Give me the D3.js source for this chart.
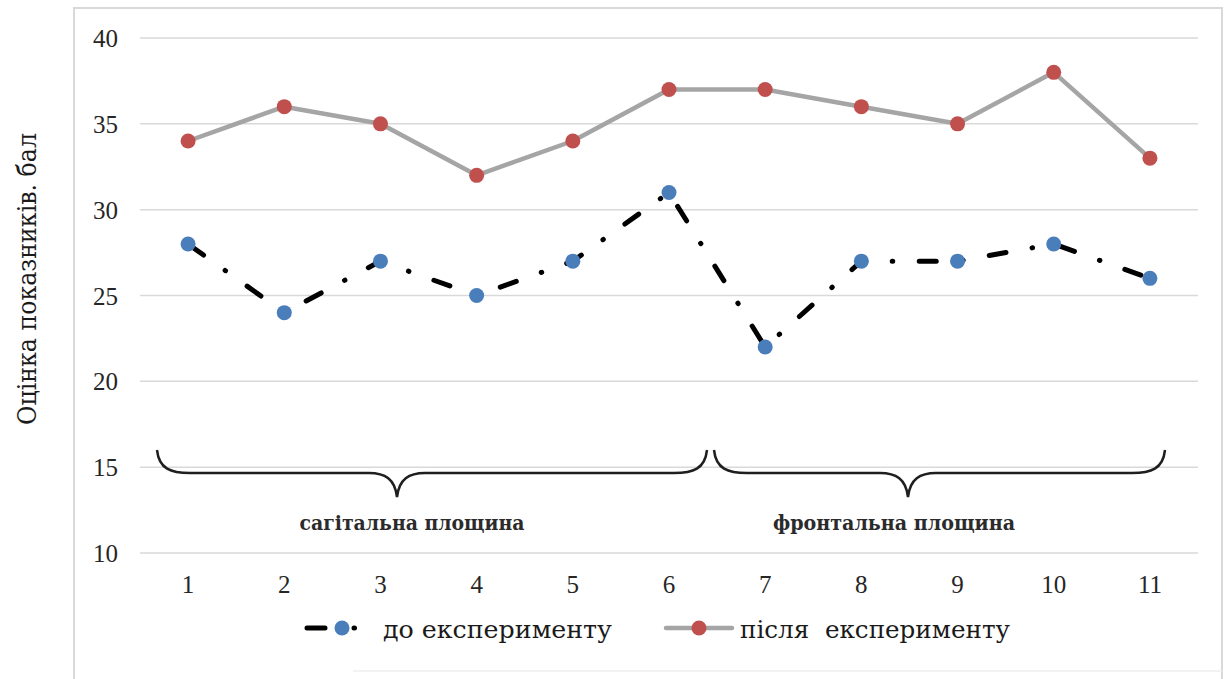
<!DOCTYPE html>
<html>
<head>
<meta charset="utf-8">
<script src="https://cdn.jsdelivr.net/npm/d3@7"></script>
<style>
  html, body { margin: 0; padding: 0; background: #fff; }
  svg { display: block; }
</style>
</head>
<body>
<svg id="chart" width="1227" height="679"></svg>
<script>
// Measurement points (1–11) and scores before/after the experiment
const categories = ["1", "2", "3", "4", "5", "6", "7", "8", "9", "10", "11"];
const beforeValues = [28, 24, 27, 25, 27, 31, 22, 27, 27, 28, 26];
const afterValues  = [34, 36, 35, 32, 34, 37, 37, 36, 35, 38, 33];
const yTicks = [10, 15, 20, 25, 30, 35, 40];
const seriesNames = ["до експерименту", "після  експерименту"];
const groups = [
  { label: "сагітальна площина", from: "1", to: "6" },
  { label: "фронтальна площина", from: "7", to: "11" }
];
const yTitle = "Оцінка показників. бал";

const SERIF = "'Liberation Serif', serif";
// Cyrillic text uses a serif face that carries those glyphs
const SERIF_CYR = "'DejaVu Serif', 'Liberation Serif', serif";
const svg = d3.select("#chart").attr("font-family", SERIF);

// Outer chart frame
svg.append("path")
  .attr("d", "M74,679 L74,8 L1222,8 L1222,679")
  .attr("fill", "none").attr("stroke", "#d9d9d9").attr("stroke-width", 2);
svg.append("line")
  .attr("x1", 353).attr("x2", 1222).attr("y1", 671).attr("y2", 671)
  .attr("stroke", "#eeeeee").attr("stroke-width", 1.5);

const x = d3.scaleBand().domain(categories).range([140, 1198]);
const cx = d => x(d) + x.bandwidth() / 2;
const y = d3.scaleLinear().domain([10, 40]).range([553, 38]);

// Horizontal gridlines
svg.append("g").selectAll("line").data(yTicks).join("line")
  .attr("x1", 140).attr("x2", 1198)
  .attr("y1", d => y(d)).attr("y2", d => y(d))
  .attr("stroke", "#d9d9d9").attr("stroke-width", 1.5);

// Y axis labels
const yAxis = d3.axisLeft(y).tickValues(yTicks).tickSize(0).tickPadding(0);
const gy = svg.append("g").attr("transform", "translate(118,0)").call(yAxis)
  .attr("font-family", SERIF);
gy.select(".domain").remove();
gy.selectAll("text")
  .attr("font-size", 25).attr("fill", "#262626").attr("dy", "0.34em");

// X axis labels
const xAxis = d3.axisBottom(x).tickSize(0).tickPadding(0);
const gx = svg.append("g").attr("transform", "translate(0,593)").call(xAxis)
  .attr("font-family", SERIF);
gx.select(".domain").remove();
gx.selectAll("text")
  .attr("font-size", 25).attr("fill", "#262626").attr("dy", 0).attr("y", 0);

// Y axis title
svg.append("text")
  .attr("transform", "translate(36,279) rotate(-90)")
  .attr("text-anchor", "middle")
  .attr("font-family", SERIF_CYR)
  .attr("font-size", 26).attr("fill", "#1a1a1a")
  .attr("textLength", 292).attr("lengthAdjust", "spacingAndGlyphs")
  .text(yTitle);

// Curly braces grouping the planes
function bracePath(x0, x1, xc) {
  const yTop = 450, yMid = 473, yTip = 497, r = 33, m = 28;
  return `M${x0},${yTop} C${x0 + 2},${yMid - 4} ${x0 + 14},${yMid} ${x0 + r},${yMid}` +
         ` L${xc - m},${yMid} C${xc - 12},${yMid} ${xc - 2},${yMid + 6} ${xc},${yTip}` +
         ` C${xc + 2},${yMid + 6} ${xc + 12},${yMid} ${xc + m},${yMid}` +
         ` L${x1 - r},${yMid} C${x1 - 14},${yMid} ${x1 - 2},${yMid - 4} ${x1},${yTop}`;
}
const braceSpec = [
  { x0: 157, x1: 707, xc: 397, tx: 412, len: 225 },
  { x0: 714, x1: 1165, xc: 908, tx: 894, len: 242 }
];
groups.forEach((g, i) => {
  const b = braceSpec[i];
  svg.append("path").attr("d", bracePath(b.x0, b.x1, b.xc))
    .attr("fill", "none").attr("stroke", "#1f1f1f").attr("stroke-width", 2.5);
  svg.append("text")
    .attr("x", b.tx).attr("y", 530).attr("text-anchor", "middle")
    .attr("font-family", SERIF_CYR)
    .attr("font-size", 20).attr("font-weight", "bold").attr("fill", "#2b2b2b")
    .attr("textLength", b.len).attr("lengthAdjust", "spacingAndGlyphs")
    .text(g.label);
});

const line = d3.line().x(d => cx(d.c)).y(d => y(d.v));
const beforeData = categories.map((c, i) => ({ c, v: beforeValues[i] }));
const afterData = categories.map((c, i) => ({ c, v: afterValues[i] }));
const dashPattern = "17 26.5 0.5 26.5";

// Series "до експерименту": black dash-dot line with blue markers
svg.append("path").datum(beforeData).attr("d", line)
  .attr("fill", "none").attr("stroke", "#000").attr("stroke-width", 5)
  .attr("stroke-linecap", "round").attr("stroke-dasharray", dashPattern)
  .attr("stroke-dashoffset", -2);
svg.append("g").selectAll("circle").data(beforeData).join("circle")
  .attr("cx", d => cx(d.c)).attr("cy", d => y(d.v)).attr("r", 7.5)
  .attr("fill", "#4a7ebb");

// Series "після експерименту": gray line with red markers
svg.append("path").datum(afterData).attr("d", line)
  .attr("fill", "none").attr("stroke", "#a5a5a5").attr("stroke-width", 4.5)
  .attr("stroke-linejoin", "round");
svg.append("g").selectAll("circle").data(afterData).join("circle")
  .attr("cx", d => cx(d.c)).attr("cy", d => y(d.v)).attr("r", 7.5)
  .attr("fill", "#c0504d");

// Legend
const lg = svg.append("g");
lg.append("line").attr("x1", 307).attr("x2", 356).attr("y1", 628).attr("y2", 628)
  .attr("stroke", "#000").attr("stroke-width", 5).attr("stroke-linecap", "round")
  .attr("stroke-dasharray", "18 29 0.5 100");
lg.append("circle").attr("cx", 342).attr("cy", 628).attr("r", 7.5).attr("fill", "#4a7ebb");
lg.append("text").attr("x", 383).attr("y", 638)
  .attr("font-family", SERIF_CYR).attr("font-size", 25).attr("fill", "#1a1a1a")
  .attr("textLength", 229).attr("lengthAdjust", "spacingAndGlyphs").text(seriesNames[0]);
lg.append("line").attr("x1", 666).attr("x2", 732).attr("y1", 628).attr("y2", 628)
  .attr("stroke", "#a5a5a5").attr("stroke-width", 4.5).attr("stroke-linecap", "round");
lg.append("circle").attr("cx", 699).attr("cy", 628).attr("r", 7.5).attr("fill", "#c0504d");
lg.append("text").attr("x", 740).attr("y", 638)
  .attr("font-family", SERIF_CYR).attr("font-size", 25).attr("fill", "#1a1a1a")
  .style("white-space", "pre")
  .attr("textLength", 270).attr("lengthAdjust", "spacingAndGlyphs").text(seriesNames[1]);
</script>
</body>
</html>
